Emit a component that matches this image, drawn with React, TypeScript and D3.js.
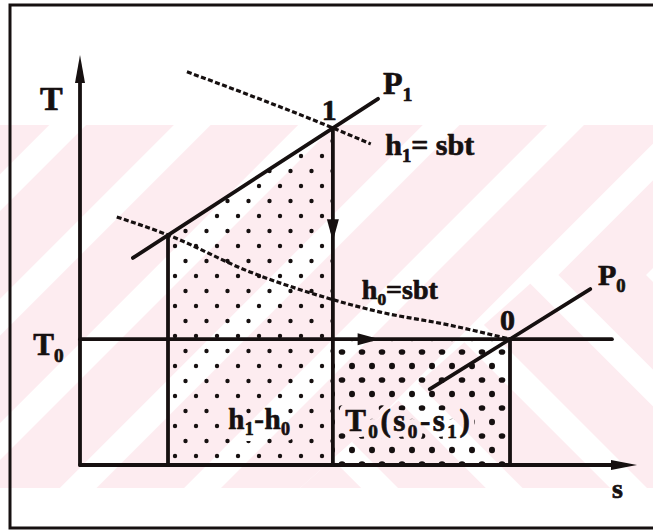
import React from "react";
import * as d3 from "d3";

const W = 653;
const H = 531;

// Entropy (s) and temperature (T) in arbitrary diagram units
const sExtent = [0, 10];
const TExtent = [0, 10];

// Characteristic states
const T0 = 3.07; // ambient temperature
const state1 = { s: 4.54, T: 8.22 }; // state 1 on the P1 isobar
const stateX = { s: 1.58, T: 5.61 }; // P1 isobar meets the h0 isenthalp
const state0 = { s: 7.72, T: 3.07 }; // dead state 0 on the P0 isobar

// Isobars
const isobarP1 = [
  { s: 0.95, T: 5.05 },
  { s: 5.35, T: 8.93 },
];
const isobarP0 = [
  { s: 6.28, T: 1.85 },
  { s: 9.16, T: 4.29 },
];

// Isenthalps (dashed)
const isenthalpH1 = [
  { s: 1.92, T: 9.59 },
  { s: 4.54, T: 8.22 },
  { s: 5.22, T: 7.83 },
];
const isenthalpH0 = [
  { s: 0.66, T: 6.05 },
  { s: 1.58, T: 5.61 },
  { s: 3.05, T: 4.71 },
  { s: 4.25, T: 4.15 },
  { s: 5.39, T: 3.73 },
  { s: 6.64, T: 3.41 },
  { s: 7.72, T: 3.07 },
];

const T0LineEnd = 9.55;

// Text labels: position in diagram units, parts with optional subscript
type Part = { t: string; sub?: boolean };
type Label = { s: number; T: number; size: number; spacing?: number; parts: Part[] };
const labels: Label[] = [
  { s: -0.72, T: 8.66, size: 34, parts: [{ t: "T" }] },
  { s: -0.84, T: 2.68, size: 31, parts: [{ t: "T" }, { t: "0", sub: true }] },
  { s: 4.34, T: 8.41, size: 30, parts: [{ t: "1" }] },
  { s: 5.44, T: 9.05, size: 32, parts: [{ t: "P" }, { t: "1", sub: true }] },
  { s: 5.48, T: 7.56, size: 30, parts: [{ t: "h" }, { t: "1", sub: true }, { t: "= sbt" }] },
  { s: 5.06, T: 4.05, size: 28, parts: [{ t: "h" }, { t: "0", sub: true }, { t: "=sbt" }] },
  { s: 7.54, T: 3.29, size: 30, parts: [{ t: "0" }] },
  { s: 9.3, T: 4.39, size: 30, parts: [{ t: "P" }, { t: "0", sub: true }] },
  {
    s: 2.66,
    T: 0.88,
    size: 29,
    spacing: 0.5,
    parts: [{ t: "h" }, { t: "1", sub: true }, { t: "-h" }, { t: "0", sub: true }],
  },
  {
    s: 4.76,
    T: 0.83,
    size: 31,
    spacing: 2.5,
    parts: [
      { t: "T" },
      { t: "0", sub: true },
      { t: "(s" },
      { t: "0", sub: true },
      { t: "-s" },
      { t: "1", sub: true },
      { t: ")" },
    ],
  },
  { s: 9.55, T: -0.8, size: 28, parts: [{ t: "s" }] },
];

const INK = "#161010";
const PINK = "#fdecf0";
const FONT = "'Liberation Serif', 'DejaVu Serif', serif";

export default function App() {
  const x = d3.scaleLinear().domain(sExtent).range([80, 637]);
  const y = d3.scaleLinear().domain(TExtent).range([465, 55]);

  const line = d3
    .line<{ s: number; T: number }>()
    .x((d) => x(d.s))
    .y((d) => y(d.T));
  const curve = d3
    .line<{ s: number; T: number }>()
    .x((d) => x(d.s))
    .y((d) => y(d.T))
    .curve(d3.curveMonotoneX);

  const regionWork = line([
    stateX,
    state1,
    { s: state1.s, T: 0 },
    { s: stateX.s, T: 0 },
    stateX,
  ]);
  const regionHeat = line([
    { s: state1.s, T: T0 },
    { s: state0.s, T: T0 },
    { s: state0.s, T: 0 },
    { s: state1.s, T: 0 },
    { s: state1.s, T: T0 },
  ]);

  // watermark band geometry
  const wmTop = 125;
  const wmBottom = 488;
  const apexX = 540;
  const apexY = 275;

  const arrowDown = (cx: number, cy: number) =>
    `M${cx - 6},${cy - 12} L${cx + 6},${cy - 12} L${cx},${cy + 10} Z`;
  const arrowRight = (cx: number, cy: number) =>
    `M${cx - 12},${cy - 6} L${cx - 12},${cy + 6} L${cx + 10},${cy} Z`;

  const stroke = { stroke: INK, strokeWidth: 3.8, fill: "none", strokeLinecap: "round" as const };
  const dashed = { ...stroke, strokeWidth: 3.2, strokeDasharray: "5 2.5", strokeLinecap: "butt" as const };

  const renderLabel = (l: Label, i: number, halo: boolean) => {
    const sub = Math.round(l.size * 0.22);
    let lowered = false;
    return (
      <text
        key={i}
        x={x(l.s)}
        y={y(l.T)}
        fontFamily={FONT}
        fontWeight="bold"
        fontSize={l.size}
        letterSpacing={l.spacing ?? 0}
        fill={halo ? "#000" : INK}
        stroke={halo ? "#000" : INK}
        strokeWidth={halo ? 12 : 0.7}
        strokeLinejoin="round"
      >
        {l.parts.map((p, j) => {
          let dy = 0;
          if (p.sub && !lowered) {
            dy = sub;
            lowered = true;
          } else if (!p.sub && lowered) {
            dy = -sub;
            lowered = false;
          }
          return (
            <tspan key={j} dy={dy} fontSize={p.sub ? l.size * 0.62 : l.size}>
              {p.t}
            </tspan>
          );
        })}
      </text>
    );
  };

  return (
    <svg
      width={W}
      height={H}
      viewBox={`0 0 ${W} ${H}`}
      style={{ position: "absolute", left: 0, top: 0, background: "#fff" }}
    >
      <defs>
        <pattern id="bandsUp" patternUnits="userSpaceOnUse" width="88" height="88"
          patternTransform={`translate(${apexX},${apexY}) rotate(45)`}>
          <rect x="0" y="0" width="88" height="88" fill={PINK} />
          <rect x="-13" y="0" width="26" height="88" fill="#fff" />
          <rect x="75" y="0" width="26" height="88" fill="#fff" />
        </pattern>
        <pattern id="bandsDown" patternUnits="userSpaceOnUse" width="88" height="88"
          patternTransform={`translate(${apexX},${apexY}) rotate(-45)`}>
          <rect x="0" y="0" width="88" height="88" fill={PINK} />
          <rect x="-13" y="0" width="26" height="88" fill="#fff" />
          <rect x="75" y="0" width="26" height="88" fill="#fff" />
        </pattern>
        <pattern id="dotsFine" patternUnits="userSpaceOnUse" width="21" height="30" x="170" y="240">
          <circle cx="5" cy="6" r="2.2" fill={INK} />
          <circle cx="15.5" cy="21" r="2.2" fill={INK} />
        </pattern>
        <pattern id="dotsCoarse" patternUnits="userSpaceOnUse" width="20" height="28" x="336" y="344">
          <ellipse cx="6" cy="8" rx="3.3" ry="2.8" fill={INK} />
          <ellipse cx="16" cy="22" rx="3" ry="3.3" fill={INK} />
        </pattern>
        <clipPath id="wmUpper">
          <polygon
            points={`0,${wmTop} ${W},${wmTop} ${W},${apexY} ${apexX},${apexY} ${300},${wmBottom} 0,${wmBottom}`}
          />
        </clipPath>
        <clipPath id="wmLower">
          <polygon points={`${apexX},${apexY} ${W},${apexY} ${W},${wmBottom} ${300},${wmBottom}`} />
        </clipPath>
        <mask id="labelHoles" maskUnits="userSpaceOnUse" x={0} y={0} width={W} height={H}>
          <rect x={0} y={0} width={W} height={H} fill="#fff" />
          {labels.map((l, i) => renderLabel(l, i, true))}
        </mask>
      </defs>

      {/* faint background watermark */}
      <rect x={0} y={wmTop} width={W} height={wmBottom - wmTop} fill="url(#bandsUp)" clipPath="url(#wmUpper)" />
      <rect x={0} y={wmTop} width={W} height={wmBottom - wmTop} fill="url(#bandsDown)" clipPath="url(#wmLower)" />

      {/* frame */}
      <path d={`M${W + 5},5 H10 V528 H${W + 5}`} stroke={INK} strokeWidth={3} fill="none" />

      {/* dotted areas, kept clear around their labels */}
      <g mask="url(#labelHoles)">
        <path d={regionWork ?? ""} fill="url(#dotsFine)" />
        <path d={regionHeat ?? ""} fill="url(#dotsCoarse)" />
      </g>

      {/* axes */}
      <line x1={x(0)} y1={y(0)} x2={x(0)} y2={y(10) + 18} {...stroke} />
      <path d={`M${x(0) - 5},${y(10) + 28} L${x(0)},${y(10)} L${x(0) + 5},${y(10) + 28} Z`} fill={INK} />
      <line x1={x(0)} y1={y(0)} x2={x(10) - 18} y2={y(0)} {...stroke} />
      <path d={`M${x(10) - 26},${y(0) - 5} L${x(10)},${y(0)} L${x(10) - 26},${y(0) + 5} Z`} fill={INK} />

      {/* ambient temperature line */}
      <line x1={x(0)} y1={y(T0)} x2={x(T0LineEnd)} y2={y(T0)} {...stroke} />

      {/* verticals */}
      <line x1={x(stateX.s)} y1={y(stateX.T)} x2={x(stateX.s)} y2={y(0)} {...stroke} />
      <line x1={x(state1.s)} y1={y(state1.T)} x2={x(state1.s)} y2={y(0)} {...stroke} />
      <line x1={x(state0.s)} y1={y(state0.T)} x2={x(state0.s)} y2={y(0)} {...stroke} />

      {/* isobars */}
      <path d={line(isobarP1) ?? ""} {...stroke} />
      <path d={line(isobarP0) ?? ""} {...stroke} />

      {/* isenthalps */}
      <path d={curve(isenthalpH1) ?? ""} {...dashed} />
      <path d={curve(isenthalpH0) ?? ""} {...dashed} />

      {/* process arrows */}
      <path d={arrowDown(x(state1.s), y(5.7))} fill={INK} />
      <path d={arrowRight(x(5.2), y(T0))} fill={INK} />

      {/* labels */}
      {labels.map((l, i) => renderLabel(l, i, false))}
    </svg>
  );
}
